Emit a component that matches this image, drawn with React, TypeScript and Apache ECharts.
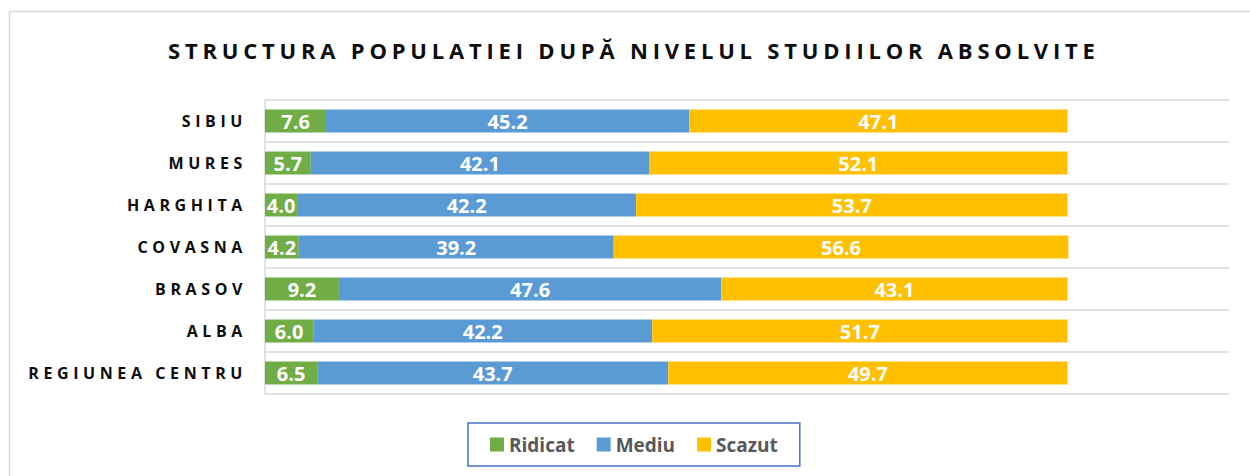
import React, { useEffect, useRef } from "react";
import * as echarts from "echarts";

const categories = ["REGIUNEA CENTRU", "ALBA", "BRASOV", "COVASNA", "HARGHITA", "MURES", "SIBIU"];
const ridicat = [6.5, 6.0, 9.2, 4.2, 4.0, 5.7, 7.6];
const mediu = [43.7, 42.2, 47.6, 39.2, 42.2, 42.1, 45.2];
const scazut = [49.7, 51.7, 43.1, 56.6, 53.7, 52.1, 47.1];
const seriesNames = ["Ridicat", "Mediu", "Scazut"];
const colors = ["#70AD47", "#5B9BD5", "#FFC000"];
const titleText = "STRUCTURA POPULATIEI DUPĂ NIVELUL STUDIILOR ABSOLVITE";

const FONT = "'Open Sans', 'Noto Sans', sans-serif";

export default function App() {
  const ref = useRef<HTMLDivElement>(null);
  useEffect(() => {
    if (!ref.current) return;
    const chart = echarts.init(ref.current, undefined, { renderer: "svg" });
    const values = [ridicat, mediu, scazut];
    const option: any = {
      animation: false,
      graphic: [
        {
          type: "rect",
          silent: true,
          shape: { x: 9.5, y: 11.5, width: 1400, height: 600 },
          style: { fill: "none", stroke: "#d9d9d9", lineWidth: 1.5 },
        },
        {
          type: "text",
          x: 168,
          y: 50,
          style: {
            text: titleText,
            font: `bold 22px ${FONT}`,
            fill: "#0d0d0d",
            textAlign: "left",
            textVerticalAlign: "middle",
          },
        },
      ],
      grid: { left: 265, top: 100, right: 21, bottom: 82, containLabel: false },
      xAxis: {
        type: "value",
        min: 0,
        max: 120,
        axisLabel: { show: false },
        axisLine: { show: false },
        axisTick: { show: false },
        splitLine: { show: false },
      },
      yAxis: {
        type: "category",
        data: categories,
        axisLine: { show: true, lineStyle: { color: "#d9d9d9", width: 1.5 } },
        axisTick: { show: false },
        splitLine: { show: true, lineStyle: { color: "#d9d9d9", width: 1.5 } },
        axisLabel: {
          margin: 18,
          color: "#0d0d0d",
          fontFamily: FONT,
          fontWeight: "bold",
          fontSize: 16,
        },
      },
      legend: {
        left: 468,
        top: 423,
        padding: [12, 22, 12, 22],
        borderColor: "#4472C4",
        borderWidth: 1.5,
        itemGap: 22,
        itemWidth: 14,
        itemHeight: 14,
        icon: "rect",
        data: seriesNames,
        textStyle: { color: "#595959", fontFamily: FONT, fontWeight: "bold", fontSize: 19 },
      },
      series: seriesNames.map((name, i) => ({
        name,
        type: "bar",
        stack: "total",
        barWidth: 23,
        data: values[i],
        itemStyle: { color: colors[i] },
        label: {
          show: true,
          position: "inside",
          color: "#ffffff",
          fontFamily: FONT,
          fontWeight: "bold",
          fontSize: 20,
          formatter: (p: any) => Number(p.value).toFixed(1),
        },
      })),
    };
    chart.setOption(option);

    const applySpacing = () => {
      const root = ref.current;
      if (!root) return;
      root.querySelectorAll("text").forEach((t) => {
        const s = (t.textContent || "").trim();
        if (s === titleText) {
          t.setAttribute("letter-spacing", "4.8px");
        } else if (categories.includes(s)) {
          t.setAttribute("letter-spacing", "4.6px");
        }
      });
    };
    applySpacing();
    chart.on("finished", applySpacing);

    return () => {
      chart.dispose();
    };
  }, []);
  return (
    <div
      ref={ref}
      style={{ position: "fixed", left: 0, top: 0, width: 1250, height: 476, background: "#ffffff" }}
    />
  );
}
